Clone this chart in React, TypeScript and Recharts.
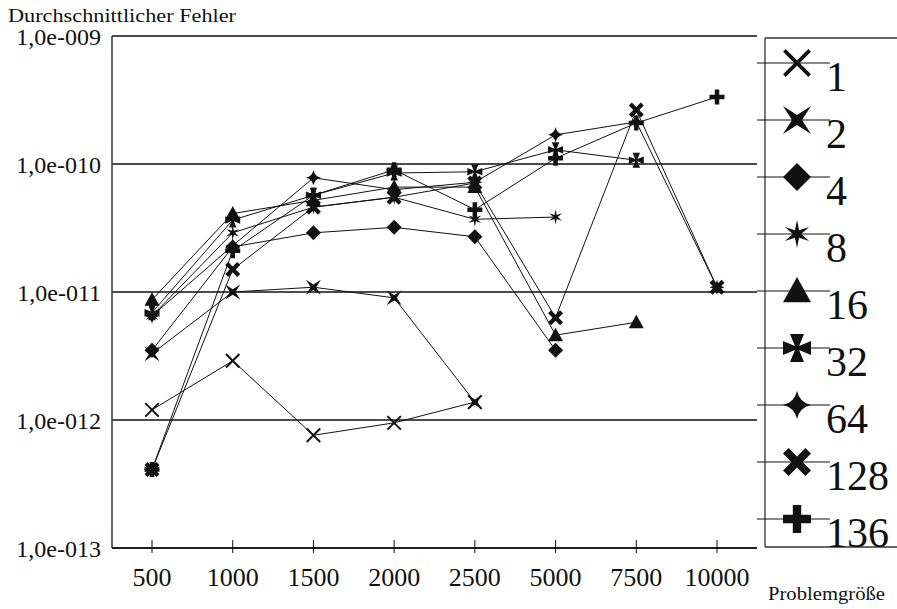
import React from "react"
import {
  LineChart,
  Line,
  XAxis,
  YAxis,
  CartesianGrid,
  Legend,
} from "recharts"

const FONT = "\"Liberation Serif\", \"Times New Roman\", Times, serif"

// Problemgröße categories
const categories = ["500", "1000", "1500", "2000", "2500", "5000", "7500", "10000"]

// one series per process count
const seriesNames = ["1", "2", "4", "8", "16", "32", "64", "128", "136"]
const s1 = [1.2e-12, 2.9e-12, 7.6e-13, 9.5e-13, 1.38e-12, null, null, null]
const s2 = [3.3e-12, 1.0e-11, 1.09e-11, 9.0e-12, 1.38e-12, null, null, null]
const s4 = [3.5e-12, 2.25e-11, 2.9e-11, 3.2e-11, 2.7e-11, 3.5e-12, null, null]
const s8 = [6.5e-12, 2.9e-11, 4.6e-11, 5.5e-11, 3.7e-11, 3.85e-11, null, null]
const s16 = [8.7e-12, 4.1e-11, 5.2e-11, 6.6e-11, 6.6e-11, 4.6e-12, 5.8e-12, null]
const s32 = [6.9e-12, 3.65e-11, 5.7e-11, 8.5e-11, 8.7e-11, 1.29e-10, 1.07e-10, null]
const s64 = [6.5e-12, 2.3e-11, 7.8e-11, 6.3e-11, 7.2e-11, 1.69e-10, 2.13e-10, 1.09e-11]
const s128 = [4.1e-13, 1.5e-11, 4.6e-11, 5.5e-11, 7.1e-11, 6.3e-12, 2.64e-10, 1.09e-11]
const s136 = [4.1e-13, 2.1e-11, 5.7e-11, 9.0e-11, 4.4e-11, 1.11e-10, 2.09e-10, 3.34e-10]
const seriesValues = [s1, s2, s4, s8, s16, s32, s64, s128, s136]

const yTicks = [1e-13, 1e-12, 1e-11, 1e-10, 1e-9]
const yTickLabels = ["1,0e-013", "1,0e-012", "1,0e-011", "1,0e-010", "1,0e-009"]

const shapes = ["x", "star4", "diamond", "asterisk", "triangle", "pattee", "sparkle", "boldx", "plus"]

const rows = categories.map((cat, i) => {
  const row: any = { cat }
  seriesNames.forEach((n, j) => {
    row["s" + n] = seriesValues[j][i]
  })
  return row
})

const txt = { fontFamily: FONT, fill: "#111" }

const pts = (list: number[][], cx: number, cy: number, r: number) =>
  list.map(([a, b]) => `${cx + a * r},${cy + b * r}`).join(" ")

const STAR4 = [[-1, -1], [0, -0.36], [1, -1], [0.36, 0], [1, 1], [0, 0.36], [-1, 1], [-0.36, 0]]
const DIAMOND = [[0, -1], [1, 0], [0, 1], [-1, 0]]
const TRIANGLE = [[0, -1], [1, 0.8], [-1, 0.8]]
const PATTEE = [
  [-0.15, -0.15], [-0.5, -1], [0.5, -1], [0.15, -0.15], [1, -0.5], [1, 0.5],
  [0.15, 0.15], [0.5, 1], [-0.5, 1], [-0.15, 0.15], [-1, 0.5], [-1, -0.5],
]
const BOLDX = [
  [-1, -0.6], [-0.6, -1], [0, -0.4], [0.6, -1], [1, -0.6], [0.4, 0],
  [1, 0.6], [0.6, 1], [0, 0.4], [-0.6, 1], [-1, 0.6], [-0.4, 0],
]
const PLUS = [
  [-0.3, -1], [0.3, -1], [0.3, -0.3], [1, -0.3], [1, 0.3], [0.3, 0.3],
  [0.3, 1], [-0.3, 1], [-0.3, 0.3], [-1, 0.3], [-1, -0.3], [-0.3, -0.3],
]
const ASTER = (() => {
  const out: number[][] = []
  for (let k = 0; k < 12; k++) {
    const ang = (-90 + k * 30) * Math.PI / 180
    const rr = k % 2 === 0 ? 1 : 0.3
    out.push([Math.cos(ang) * rr, Math.sin(ang) * rr])
  }
  return out
})()

function Marker({ kind, cx, cy, r }: { kind: string; cx: number; cy: number; r: number }) {
  switch (kind) {
    case "x": {
      const d = r * 0.9
      return (
        <g stroke="#111" strokeWidth={r / 3.8}>
          <line x1={cx - d} y1={cy - d} x2={cx + d} y2={cy + d} />
          <line x1={cx - d} y1={cy + d} x2={cx + d} y2={cy - d} />
        </g>
      )
    }
    case "star4":
      return <polygon points={pts(STAR4, cx, cy, r)} fill="#111" />
    case "diamond":
      return <polygon points={pts(DIAMOND, cx, cy, r)} fill="#111" />
    case "asterisk":
      return <polygon points={pts(ASTER, cx, cy, r)} fill="#111" />
    case "triangle":
      return <polygon points={pts(TRIANGLE, cx, cy, r)} fill="#111" />
    case "pattee":
      return <polygon points={pts(PATTEE, cx, cy, r)} fill="#111" />
    case "sparkle": {
      const q = r * 0.18
      return (
        <path
          d={`M${cx},${cy - r} Q${cx + q},${cy - q} ${cx + r},${cy} Q${cx + q},${cy + q} ${cx},${cy + r} Q${cx - q},${cy + q} ${cx - r},${cy} Q${cx - q},${cy - q} ${cx},${cy - r}Z`}
          fill="#111"
        />
      )
    }
    case "boldx":
      return <polygon points={pts(BOLDX, cx, cy, r)} fill="#111" />
    default:
      return <polygon points={pts(PLUS, cx, cy, r)} fill="#111" />
  }
}

const XTick = (p: any) => {
  const { x, y, payload } = p
  return (
    <g>
      <line x1={x} x2={x} y1={y - 8} y2={y + 5} stroke="#111" strokeWidth={1} />
      <text x={x} y={y + 38} textAnchor="middle" fontSize={26} style={txt}>
        {payload.value}
      </text>
    </g>
  )
}

const YTick = (p: any) => {
  const { x, y, payload, index } = p
  const i = yTicks.indexOf(payload.value)
  return (
    <text x={x - 11} y={y + 9} textAnchor="end" fontSize={24} style={txt}>
      {yTickLabels[i >= 0 ? i : index]}
    </text>
  )
}

const LegendBox = () => (
  <svg width={140} height={540} style={{ display: "block" }}>
    <line x1={8} y1={8} x2={8} y2={517} stroke="#333" strokeWidth={1.3} />
    <line x1={8} y1={8} x2={140} y2={8} stroke="#333" strokeWidth={1.3} />
    <line x1={8} y1={517} x2={140} y2={517} stroke="#333" strokeWidth={1.3} />
    {seriesNames.map((n, i) => {
      const ly = 33 + i * 57
      return (
        <g key={n}>
          <line x1={0} x2={73} y1={ly} y2={ly} stroke="#111" strokeWidth={1} />
          <Marker kind={shapes[i]} cx={40} cy={ly} r={14} />
          <text x={69} y={ly + 28} fontSize={42} style={txt}>
            {n}
          </text>
        </g>
      )
    })}
  </svg>
)

export default function App() {
  return (
    <div style={{ position: "relative", width: 897, height: 609, background: "#fff" }}>
      <style>{"body{margin:0}"}</style>
      <LineChart
        width={897}
        height={609}
        data={rows}
        margin={{ top: 36, right: 140, bottom: 21, left: 0 }}
      >
        <CartesianGrid vertical={false} stroke="#111" strokeWidth={1.3} />
        <XAxis
          dataKey="cat"
          height={40}
          padding={{ left: 40, right: 40 }}
          tickSize={0}
          tickMargin={0}
          interval={0}
          axisLine={{ stroke: "#111", strokeWidth: 1.5 }}
          tick={XTick}
        />
        <YAxis
          type="number"
          scale="log"
          domain={[1e-13, 1e-9]}
          ticks={yTicks}
          allowDataOverflow
          width={112}
          tickSize={0}
          tickMargin={0}
          axisLine={{ stroke: "#333", strokeWidth: 1.5 }}
          tick={YTick}
        />
        <YAxis
          yAxisId="r"
          orientation="right"
          width={0}
          tick={false}
          tickLine={false}
          axisLine={{ stroke: "#333", strokeWidth: 1.5 }}
        />
        <Legend
          layout="horizontal"
          align="center"
          verticalAlign="middle"
          content={LegendBox}
          wrapperStyle={{ position: "absolute", left: 757, top: 30, width: 140, height: 540 }}
        />
        {seriesNames.map((n, i) => (
          <Line
            key={n}
            dataKey={"s" + n}
            name={n}
            type="linear"
            stroke="#111"
            strokeWidth={1}
            isAnimationActive={false}
            dot={(p: any) => (
              <g key={`${n}-${p.index}`}>
                {p.cy == null || p.value == null ? null : (
                  <Marker kind={shapes[i]} cx={p.cx} cy={p.cy} r={7.5} />
                )}
              </g>
            )}
          />
        ))}
      </LineChart>
      <svg
        width={897}
        height={609}
        style={{ position: "absolute", left: 0, top: 0, pointerEvents: "none" }}
      >
        <text x={8} y={22} fontSize={18} textLength={228} lengthAdjust="spacingAndGlyphs" style={txt}>
          Durchschnittlicher Fehler
        </text>
        <text x={768} y={600} fontSize={19} textLength={117} lengthAdjust="spacingAndGlyphs" style={txt}>
          Problemgröße
        </text>
      </svg>
    </div>
  )
}
